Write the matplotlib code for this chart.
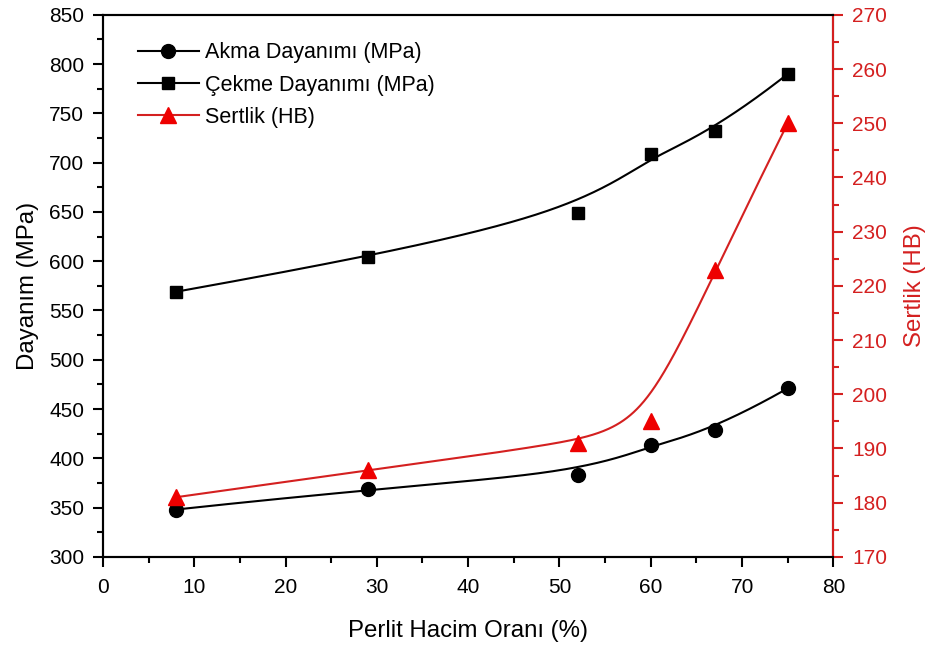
import numpy as np
import matplotlib
matplotlib.use("Agg")
import matplotlib.pyplot as plt
from matplotlib.ticker import MultipleLocator
from matplotlib.lines import Line2D

plt.rcParams['font.family'] = ['Liberation Sans', 'DejaVu Sans']

perlit = [8, 29, 52, 60, 67, 75]
akma = [348, 369, 383, 414, 429, 471]
cekme = [569, 604, 649, 709, 732, 790]
sertlik = [181, 186, 191, 195, 223, 250]

RED = '#d42020'
MRED = '#ee0000'


def bspline_curve(x, y, k=3, num=400):
    """Clamped B-spline using the data points as control points (like Origin's B-Spline line)."""
    P = np.column_stack([np.asarray(x, float), np.asarray(y, float)])
    n = len(P)
    inner = np.linspace(0, 1, n - k + 1)
    knots = np.concatenate([np.zeros(k), inner, np.ones(k)])
    t = np.linspace(0, 1, num)
    t[-1] = 1 - 1e-12

    def basis(i, p, tt):
        if p == 0:
            return ((knots[i] <= tt) & (tt < knots[i + 1])).astype(float)
        out = np.zeros_like(tt)
        d1 = knots[i + p] - knots[i]
        if d1 > 0:
            out += (tt - knots[i]) / d1 * basis(i, p - 1, tt)
        d2 = knots[i + p + 1] - knots[i + 1]
        if d2 > 0:
            out += (knots[i + p + 1] - tt) / d2 * basis(i + 1, p - 1, tt)
        return out

    B = np.column_stack([basis(i, k, t) for i in range(n)])
    C = B @ P
    return C[:, 0], C[:, 1]


fig = plt.figure(figsize=(9.27, 6.46), dpi=100)
ax = fig.add_axes([0.111, 0.138, 0.788, 0.839])
ax2 = ax.twinx()

cx, cy = bspline_curve(perlit, akma)
ax.plot(cx, cy, color='black', lw=1.5)
cx, cy = bspline_curve(perlit, cekme)
ax.plot(cx, cy, color='black', lw=1.5)
cx, cy = bspline_curve(perlit, sertlik)
ax2.plot(cx, cy, color=RED, lw=1.5)

ax.plot(perlit, akma, 'o', color='black', ms=10, zorder=3)
ax.plot(perlit, cekme, 's', color='black', ms=9, zorder=3)
ax2.plot(perlit, sertlik, '^', color=MRED, ms=11, zorder=3)

ax.set_xlim(0, 80)
ax.set_ylim(300, 850)
ax2.set_ylim(170, 270)

ax.xaxis.set_major_locator(MultipleLocator(10))
ax.xaxis.set_minor_locator(MultipleLocator(5))
ax.yaxis.set_major_locator(MultipleLocator(50))
ax.yaxis.set_minor_locator(MultipleLocator(25))
ax2.yaxis.set_major_locator(MultipleLocator(10))
ax2.yaxis.set_minor_locator(MultipleLocator(5))

for a in (ax, ax2):
    for s in a.spines.values():
        s.set_linewidth(1.5)
ax.tick_params(which='both', direction='out', width=1.5, labelsize=15, pad=6.5, top=False, right=False)
ax.tick_params(axis='x', pad=8)
ax.tick_params(which='major', length=7)
ax.tick_params(which='minor', length=4)
ax2.tick_params(which='both', direction='out', width=1.5, labelsize=15, pad=6.5, colors=RED)
ax2.tick_params(which='major', length=7)
ax2.tick_params(which='minor', length=4)
ax2.spines['right'].set_color(RED)

ax.set_xlabel('Perlit Hacim Oranı (%)', fontsize=17.3, labelpad=17)
ax.set_ylabel('Dayanım (MPa)', fontsize=17.3, labelpad=7)
ax2.set_ylabel('Sertlik (HB)', fontsize=17.3, color=RED, labelpad=12)

handles = [
    Line2D([], [], color='black', marker='o', ms=10, lw=1.5),
    Line2D([], [], color='black', marker='s', ms=9, lw=1.5),
    Line2D([], [], color=RED, marker='^', ms=11, mfc=MRED, mec=MRED, lw=1.5),
]
labels = ['Akma Dayanımı (MPa)', 'Çekme Dayanımı (MPa)', 'Sertlik (HB)']
ax.legend(handles, labels, loc='upper left', bbox_to_anchor=(0.022, 0.985), frameon=False,
          fontsize=15.5, handlelength=2.8, handletextpad=0.3, labelspacing=0.52)

fig.savefig('out.png', dpi=100)
